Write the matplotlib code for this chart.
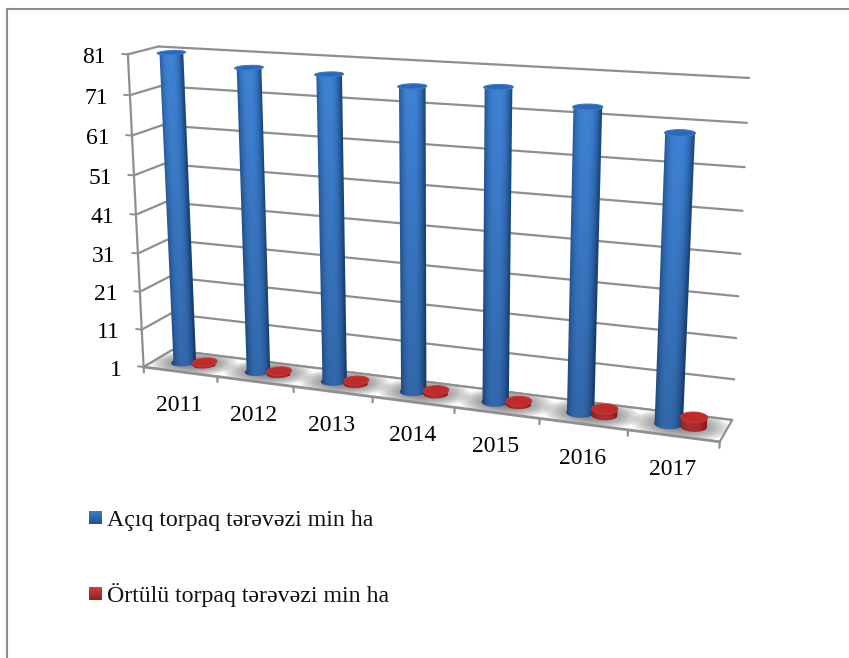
import numpy as np
import matplotlib
matplotlib.use("Agg")
import matplotlib.pyplot as plt
from matplotlib.patches import Polygon

plt.rcParams['font.family'] = ['Liberation Serif', 'DejaVu Serif']

years = ["2011", "2012", "2013", "2014", "2015", "2016", "2017"]
open_veg = [80.8, 78.2, 77.7, 76.0, 77.0, 73.7, 69.2]
covered_veg = [1.6, 1.7, 1.8, 1.9, 1.8, 2.6, 3.3]
ticks = [1, 11, 21, 31, 41, 51, 61, 71, 81]
open_label = "Açıq torpaq tərəvəzi min ha"
covered_label = "Örtülü torpaq tərəvəzi min ha"

vmin, vmax = 1, 81

# corners, used to fit the 3d view: (u, t, d) -> pixel
# u along years, t up the value axis, d into the chart
world = [(0, 0, 0), (0, 0, 1), (1, 0, 1), (1, 0, 0), (0, 1, 0), (0, 1, 1), (1, 1, 1),
         (0, .875, 1), (0, .75, 1), (0, .875, 0), (0, .75, 0), (1, .125, 1), (1, .875, 1)]
pixel = [(144, 367), (172, 350), (733, 419), (719, 443), (128, 54), (159, 46), (749, 78),
         (160, 87), (161, 126), (130, 95), (132, 135), (734, 379), (747, 123)]


def fit_camera(world, pixel):
    rows = []
    for (x, y, z), (px, py) in zip(world, pixel):
        rows.append([x, y, z, 1, 0, 0, 0, 0, -px*x, -px*y, -px*z, -px])
        rows.append([0, 0, 0, 0, x, y, z, 1, -py*x, -py*y, -py*z, -py])
    _, _, vt = np.linalg.svd(np.array(rows, dtype=float))
    return vt[-1].reshape(3, 4)


cam = fit_camera(world, pixel)


def proj(u, t, d):
    u, t, d = np.broadcast_arrays(np.asarray(u, float), np.asarray(t, float), np.asarray(d, float))
    p = np.stack([u, t, d, np.ones_like(u)], axis=-1) @ cam.T
    return p[..., 0] / p[..., 2], p[..., 1] / p[..., 2]


def val(v):
    return (np.asarray(v, float) - vmin) / (vmax - vmin)


def line(ax, a, b, z=1, lw=1.6, color="#8f8f8f"):
    xa, ya = proj(*a)
    xb, yb = proj(*b)
    ax.plot([xa, xb], [ya, yb], color=color, lw=lw, zorder=z, solid_capstyle="round")


def rgb(c):
    return np.array(matplotlib.colors.to_rgb(c))


def mix(c1, c2, s):
    return rgb(c1) * (1 - s) + rgb(c2) * s


def cylinder(ax, uc, v, ru, rd, edge, centre, cap, rim, z):
    dc = 0.5
    top = val(v)
    # silhouette: front arc of the base, back arc of the top
    a_front = np.linspace(np.pi, 2*np.pi, 40)
    a_back = np.linspace(0, np.pi, 40)
    xb, yb = proj(uc + ru*np.cos(a_front), 0, dc + rd*np.sin(a_front))
    xt, yt = proj(uc + ru*np.cos(a_back), top, dc + rd*np.sin(a_back))
    sil = Polygon(np.c_[np.r_[xb, xt], np.r_[yb, yt]], closed=True, facecolor="none", edgecolor="none", zorder=z)
    ax.add_patch(sil)

    # shading across the tilted cylinder, computed row by row
    x0, x1 = min(xb.min(), xt.min()) - 1, max(xb.max(), xt.max()) + 1
    y0, y1 = min(yb.min(), yt.min()) - 1, max(yb.max(), yt.max()) + 1
    nx, ny = max(int((x1 - x0) * 3), 8), max(int((y1 - y0) * 2), 8)
    gx, gy = np.meshgrid(np.linspace(x0, x1, nx), np.linspace(y0, y1, ny))
    lx0, ly0 = proj(uc - ru, 0, dc)
    lx1, ly1 = proj(uc - ru, top, dc)
    rx0, ry0 = proj(uc + ru, 0, dc)
    rx1, ry1 = proj(uc + ru, top, dc)
    f = np.clip((gy - ly0) / (ly1 - ly0), 0, 1)
    left = lx0 + (lx1 - lx0) * f
    right = rx0 + (rx1 - rx0) * f
    c = np.clip((gx - left) / (right - left) * 2 - 1, -1, 1)
    s = np.clip(1 - np.abs(c + 0.1) ** 2.6, 0, 1)[..., None]
    shade = (0.80 + 0.20 * f)[..., None]
    img = (rgb(edge) * (1 - s) + rgb(centre) * s) * shade
    im = ax.imshow(img, extent=(x0, x1, y1, y0), aspect="auto", zorder=z, interpolation="bilinear")
    im.set_clip_path(sil)

    a = np.linspace(0, 2*np.pi, 60)
    x, y = proj(uc + ru*np.cos(a), top, dc + rd*np.sin(a))
    ax.add_patch(Polygon(np.c_[x, y], closed=True, facecolor=cap, edgecolor=rim, lw=0.8, zorder=z + 0.001))


def gradient_square(ax, x0, y0, size, c1, c2):
    img = np.array([mix(c1, c2, s) for s in np.linspace(0, 1, 32)]).reshape(32, 1, 3)
    ax.imshow(img, extent=(x0, x0 + size, y0 + size, y0), aspect="auto", zorder=3, interpolation="bilinear")


fig = plt.figure(figsize=(8.49, 6.58), dpi=100)
ax = fig.add_axes([0, 0, 1, 1])

# frame of the chart area, only top and left are inside the crop
ax.plot([7, 7], [658, 9], color="#8c8c8c", lw=1.5, zorder=1)
ax.plot([7, 849], [9, 9], color="#8c8c8c", lw=1.5, zorder=1)

# gridlines on the back and left walls
for tk in ticks:
    t = val(tk)
    line(ax, (0, t, 0), (0, t, 1))
    line(ax, (0, t, 1), (1, t, 1))
    line(ax, (0, t, 0), (-0.011, t, 0), lw=1.4)
    x, y = proj(0, t, 0)
    ax.text(x - 22, y + 3, str(tk), ha="right", va="center", fontsize=17, color="black", zorder=6)
line(ax, (0, 0, 0), (0, 1, 0))

# floor with soft shadows under each group
xf, yf = proj([0, 0, 1, 1], 0, [0, 1, 1, 0])
floor = Polygon(np.c_[xf, yf], closed=True, facecolor="white", edgecolor="none", zorder=1.5)
ax.add_patch(floor)
a = np.linspace(0, 2*np.pi, 60)
for i in range(len(years)):
    uc = (i + 0.5) / len(years)
    for s in np.linspace(1, 0.25, 16):
        x, y = proj(uc + 0.078*s*np.cos(a), 0, 0.5 + 0.65*s*np.sin(a))
        p = Polygon(np.c_[x, y], closed=True, facecolor="#606060", edgecolor="none", alpha=0.08, zorder=1.6)
        ax.add_patch(p)
        p.set_clip_path(floor)
line(ax, (0, 0, 0), (0, 0, 1), z=2)
line(ax, (0, 0, 1), (1, 0, 1), z=2)
line(ax, (1, 0, 1), (1, 0, 0), z=2)
line(ax, (0, 0, 0), (1, 0, 0), z=2, lw=2)

# category ticks and labels
for i in range(len(years) + 1):
    line(ax, (i / len(years), 0, 0), (i / len(years), -0.018, 0), z=2)
for i, yr in enumerate(years):
    x, y = proj((i + 0.5) / len(years), 0, 0)
    ax.text(x - 1, y + 34, yr, ha="center", va="center", fontsize=17, color="black", zorder=6)

# bars, left to right
for i in range(len(years)):
    uc = (i + 0.5) / len(years)
    cylinder(ax, uc - 0.0185, open_veg[i], 0.0225, 0.26, "#1c4a86", "#3f83d6", "#2c68b4", "#3a7bcb", 4 + i*0.01)
    cylinder(ax, uc + 0.021, covered_veg[i], 0.0205, 0.23, "#a61f1f", "#d63a3a", "#bd2b2b", "#cc3434", 4.5 + i*0.01)

# legend
gradient_square(ax, 89, 511, 13, "#3c7cca", "#23508f")
gradient_square(ax, 89, 587, 13, "#d23f3c", "#8f2020")
ax.text(107, 526, open_label, ha="left", va="baseline", fontsize=17.2, color="#111111", zorder=6)
ax.text(107, 602, covered_label, ha="left", va="baseline", fontsize=17.2, color="#111111", zorder=6)

ax.set_xlim(0, 849)
ax.set_ylim(658, 0)
ax.axis("off")
fig.savefig("out.png", dpi=100)
